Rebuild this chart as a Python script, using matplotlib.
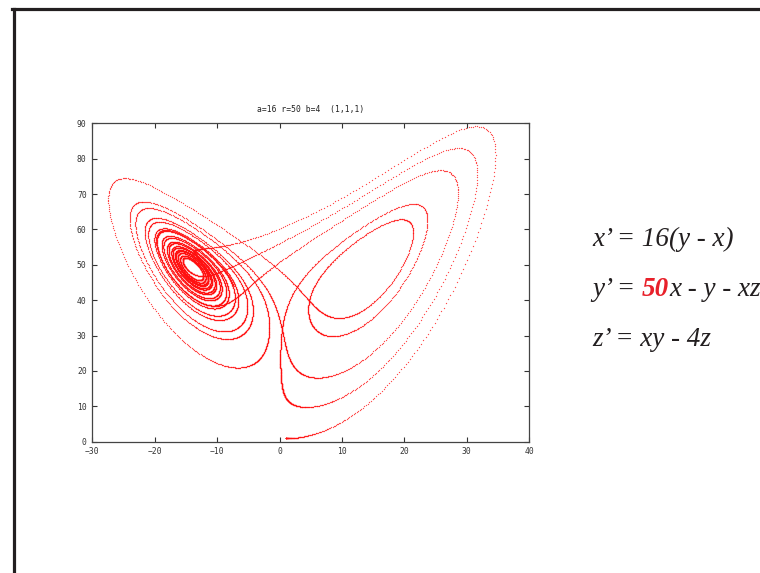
import numpy as np
import matplotlib
matplotlib.use("Agg")
import matplotlib.pyplot as plt
from matplotlib.lines import Line2D

# parameters as printed in the chart title
a, r, b = 16.0, 50.0, 4.0
start = [1.0, 1.0, 1.0]
dt = 0.001
t_end = 10.0

x_ticks = [-30, -20, -10, 0, 10, 20, 30, 40]
z_ticks = [0, 10, 20, 30, 40, 50, 60, 70, 80, 90]
title = "a=16 r=50 b=4  (1,1,1)"


def deriv(s):
    x, y, z = s
    return np.array([a * (y - x), r * x - y - x * z, x * y - b * z])


# RK4 over the time span
s = np.array(start)
pts = [s.copy()]
for i in range(int(round(t_end / dt))):
    k1 = deriv(s)
    k2 = deriv(s + dt / 2 * k1)
    k3 = deriv(s + dt / 2 * k2)
    k4 = deriv(s + dt * k3)
    s = s + dt / 6 * (k1 + 2 * k2 + 2 * k3 + k4)
    pts.append(s.copy())
pts = np.array(pts)

W, H = 760, 573
fig = plt.figure(figsize=(W / 100, H / 100), dpi=100)
fig.patch.set_facecolor("white")

# slide frame (left and top edge)
fig.add_artist(Line2D([13.5 / W, 13.5 / W], [0, 1 - 9 / H], color="#231f20", lw=2.3,
                      transform=fig.transFigure))
fig.add_artist(Line2D([12.4 / W, 1], [1 - 9 / H, 1 - 9 / H], color="#231f20", lw=2.3,
                      transform=fig.transFigure))

ax = fig.add_axes([92.3 / W, 131.3 / H, 437 / W, 318.4 / H])
ax.plot(pts[:, 0], pts[:, 2], linestyle="none", marker="o", markersize=0.95,
        markeredgewidth=0, color="#ff1010", alpha=0.75)
ax.set_xlim(-30, 40)
ax.set_ylim(0, 90)
ax.set_xticks(x_ticks)
ax.set_yticks(z_ticks)
mono = "DejaVu Sans Mono"
ax.tick_params(direction="in", length=3.5, width=0.8, colors="#333333",
               labelsize=5.8, top=True, right=True, pad=4)
for lab in ax.get_xticklabels() + ax.get_yticklabels():
    lab.set_family(mono)
for sp in ax.spines.values():
    sp.set_color("#444444")
    sp.set_linewidth(0.9)
ax.set_title(title, family=mono, fontsize=5.8, pad=8, color="#222222")

# equations on the right
serif = "Liberation Serif"
txt = "#231f20"
fs = 19.5
fig.text(592 / W, 1 - 246 / H, "x\u2019 = 16(y - x)", family=serif, style="italic",
         fontsize=fs, color=txt, va="baseline")
fig.text(592 / W, 1 - 346 / H, "z\u2019 = xy - 4z", family=serif, style="italic",
         fontsize=fs, color=txt, va="baseline")

renderer = fig.canvas.get_renderer()
t1 = fig.text(592 / W, 1 - 296 / H, "y\u2019 = ", family=serif, style="italic",
              fontsize=fs, color=txt, va="baseline")
x1 = t1.get_window_extent(renderer).x1
t2 = fig.text(x1 / W, 1 - 296 / H, "50", family=serif, style="italic", weight="bold",
              fontsize=fs, color="#e8202a", va="baseline")
x2 = t2.get_window_extent(renderer).x1
fig.text(x2 / W, 1 - 296 / H, "x - y - xz", family=serif, style="italic",
         fontsize=fs, color=txt, va="baseline")

fig.savefig("out.png", dpi=100)
